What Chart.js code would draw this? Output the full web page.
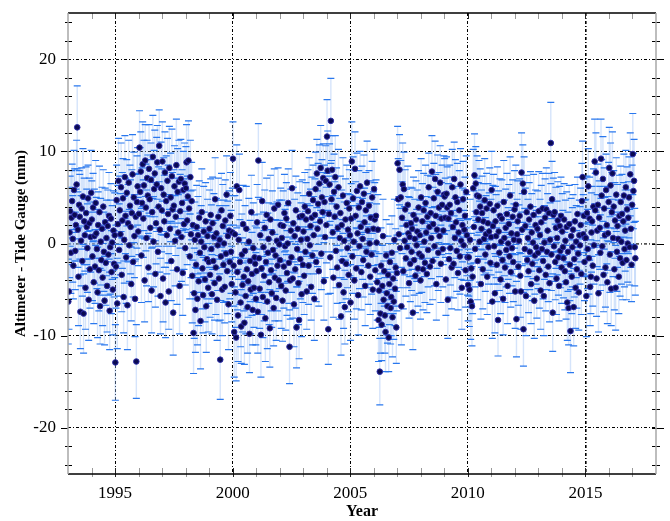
<!DOCTYPE html>
<html>
<head>
<meta charset="utf-8">
<script src="https://cdn.jsdelivr.net/npm/chart.js@4"></script>
<style>
  html, body { margin: 0; padding: 0; background: #fff; }
  #wrap { width: 670px; height: 521px; }
</style>
</head>
<body>
<div id="wrap"><canvas id="slaChart"></canvas></div>
<script>
// altimeter minus tide gauge (mm), one row per year, ~37 points a year
const blockStart = [1993, 1999, 2005, 2011];
const perYear = 37;

const sla1993 = [
  -6.3, -5.2, 1.2, 3.5, -1.0, 2.8, 4.6, 0.5, -2.4, 5.8, 3.1, -0.8, 2.0, 6.4, 12.6, 1.5, -3.6, 4.2, 2.9, -7.4, 0.3, 3.8, -1.9, 5.1, -7.6, 2.4, 0.9, -4.8, 3.3, 1.8, -0.5, 4.9, -6.1, 2.2, -2.8, 0.7, 5.5,
  2.6, -1.4, 3.9, -4.2, 0.8, -2.5, 4.4, 1.1, -0.6, -5.3, 2.0, -2.9, 3.4, -6.8, 0.2, -1.8, 1.6, -3.7, 4.0, -0.9, -6.2, 2.3, -2.1, 0.6, -4.6, 1.9, -1.2, 3.0, -7.3, -0.4, 2.7, -3.1, 0.1, -5.0, 1.4, -2.2, 0.9,
  -12.9, -2.5, 4.7, -6.5, 2.1, 6.8, -0.7, 3.6, 1.0, 6.1, -3.4, 2.5, 4.9, -5.8, 0.4, 7.2, 3.0, -1.5, 5.5, -6.7, 2.2, 6.6, -0.2, 4.1, 1.8, -4.4, 3.3, 7.5, -2.0, 5.0, 0.8, -6.0, 2.9, -12.8, 4.5, 6.2, 1.3,
  3.2, 10.4, 5.6, 7.8, -1.3, 4.4, 8.6, 2.7, 6.3, -4.0, 9.0, 3.9, 0.6, 7.1, 5.2, -2.6, 8.1, 4.8, 1.7, 6.9, -5.1, 3.4, 9.4, 0.2, 5.9, 7.6, -3.3, 2.2, 6.4, 8.8, -0.9, 4.0, 10.6, 1.5, -5.7, 6.0, 3.6,
  8.9, -3.8, 5.3, 2.4, 7.7, -6.4, 4.6, 0.9, 6.8, 3.2, -5.2, 8.2, 1.6, 5.0, -1.9, 7.3, 3.7, -7.5, 4.1, 6.2, 0.3, 2.9, 8.5, -2.8, 5.6, 1.2, 6.7, -4.6, 3.5, 7.0, 0.7, 4.4, -3.2, 5.8, 2.1, 6.5, -0.5,
  6.0, 8.8, 2.5, 5.1, 9.0, 3.8, -1.4, 7.2, 1.0, 4.6, -3.5, 2.0, -9.7, -5.4, 0.4, -7.2, -2.3, 1.8, -6.0, 0.9, -4.1, 2.8, -1.0, -8.4, 0.2, 3.4, -2.7, -5.6, 1.3, -0.4, -3.9, 2.4, -6.8, -1.7, 0.8, -4.8, -2.0
];
const sla1999 = [
  1.6, -3.4, 3.1, -0.6, -5.5, 2.2, -1.9, 0.7, -4.3, 4.8, -2.6, 1.1, -6.1, -0.2, 2.9, -3.8, 0.4, -12.6, -1.4, 3.6, -5.0, 1.9, -2.3, 0.0, -4.7, 2.5, -1.1, 5.3, -3.0, 0.8, -6.6, 1.4, -2.0, 3.0, -0.9, -4.4, 1.2,
  9.2, -2.4, -9.6, 1.0, -5.3, -10.2, 6.2, -3.1, -7.8, 0.4, 5.8, -2.0, -6.4, -9.0, -1.2, -4.5, 2.1, -3.6, -8.6, -0.8, -5.7, 1.6, -2.8, -6.9, -4.1, 0.2, -9.8, -1.9, -5.0, 3.4, -3.3, -7.2, -0.5, -4.8, -1.5, -2.2, -6.0,
  -3.0, 2.3, -7.4, 9.0, -1.6, -4.9, 0.9, -9.9, -2.7, 4.6, -5.8, -0.4, -3.5, 1.7, -8.1, -2.0, 3.1, -6.3, -1.0, 0.5, -4.2, -9.2, 2.6, -2.9, -5.4, 1.2, -0.7, -7.0, 3.8, -3.7, -1.3, -5.9, 0.3, -2.4, 4.2, -4.0, -0.1,
  -1.8, 2.0, -4.6, 0.6, -6.2, 1.9, -2.5, 3.3, -0.3, -5.1, 2.7, -3.2, 0.0, 4.4, -2.1, -11.2, -4.0, 1.4, -1.5, 6.0, -3.8, 2.2, -6.6, 0.8, -2.8, 3.6, -9.1, -0.6, 1.6, -4.3, -8.3, 2.9, -1.7, 0.4, -5.5, 3.0, -2.3,
  1.3, -3.5, 4.0, -0.9, 2.6, -5.2, 0.5, 3.5, -2.4, 5.4, -0.2, 1.9, -4.7, 2.8, -1.3, 4.7, 0.9, -6.0, 3.1, 5.9, -2.0, 7.6, 1.6, 4.3, -3.0, 6.5, 2.4, 8.2, -1.1, 5.0, 3.4, 7.1, -4.1, 4.5, 0.7, 6.8, 2.0,
  11.6, 7.9, -9.3, 3.2, 6.4, -1.5, 13.3, 4.8, 8.0, 1.2, -3.7, 5.6, 2.9, 7.2, -0.8, 4.0, -2.6, 1.7, 6.1, -4.5, 0.6, 3.3, -7.9, 2.0, -1.9, 5.2, -5.3, 0.3, -6.9, 2.6, -2.2, 4.4, -0.5, 1.5, -3.4, 3.8, 0.9
];
const sla2005 = [
  -6.4, 2.7, 8.9, -1.4, 4.9, 0.2, -4.0, 8.1, 3.0, -2.7, 5.7, 1.1, -5.6, 3.9, -0.3, 6.2, 1.8, -3.1, 4.5, 0.5, -1.8, 5.4, 2.3, -4.6, 3.6, -0.9, 6.6, 1.4, -2.4, 4.1, 0.0, -3.6, 2.8, -1.2, 5.0, -5.0, 1.6,
  5.9, 2.6, -2.9, 3.0, 0.1, -4.2, 1.5, -8.3, -5.1, -13.9, -7.6, -2.4, -8.8, -4.6, 0.8, -6.1, -3.0, -7.8, -9.6, -1.3, -5.4, -6.8, -3.4, -10.2, -4.4, -2.0, -7.0, -5.8, -1.0, -8.0, -3.8, -6.3, 0.4, -4.9, -2.6, -9.1, -3.2,
  8.7, 4.8, 1.0, 8.0, -0.5, 5.0, -6.8, 2.8, 6.4, -3.0, 5.9, 0.3, 3.7, -1.6, 2.0, -0.4, 4.2, 1.1, -4.3, 0.7, -2.2, 2.2, -0.9, 1.6, -7.5, 3.1, -1.8, 0.5, -3.5, 2.6, -0.2, 1.3, -2.7, 3.9, -1.1, 0.9, -4.0,
  5.0, -1.4, 2.4, -2.8, 3.6, 0.2, -2.1, 4.4, 1.2, -3.3, 2.9, -0.7, 6.1, 1.8, -2.5, 3.3, 0.6, 7.8, -1.9, 2.1, 4.9, -0.3, 7.0, 3.0, -4.4, 1.5, 5.6, -1.0, 3.9, 0.8, 6.6, -2.2, 2.7, 4.2, -0.6, 1.4, 5.3,
  5.1, 2.8, -3.9, 5.4, 3.9, -6.1, 2.7, -1.7, 4.2, -0.5, 3.3, -2.6, 6.1, 1.8, -2.2, 7.0, 0.6, 5.0, 2.3, -0.8, 4.5, -3.2, 1.2, 3.6, -1.4, 6.4, 0.3, -4.8, 2.0, 4.8, -0.2, 1.5, 3.0, -2.9, 5.6, 0.9, -1.5,
  -4.5, -1.5, -5.0, 0.4, -6.3, -2.7, -6.8, -3.6, 6.0, 1.8, 7.4, -0.6, 6.5, 3.4, 5.2, -1.9, 2.6, 5.1, 0.2, 4.0, -4.4, 1.6, 3.3, -2.8, 2.4, 0.5, 4.7, -1.2, 1.0, 3.8, -3.6, 2.2, -0.4, 1.3, 4.3, -2.1, 0.7
];
const sla2011 = [
  5.8, -6.3, 1.9, 3.6, -0.3, -5.4, 2.4, 0.8, -2.3, 4.1, -8.3, 1.3, -1.0, 3.0, -3.9, 0.2, 2.7, -1.8, -6.0, 4.5, 0.6, -2.6, 1.7, -0.7, 3.2, -4.6, 0.0, 2.1, -1.4, 5.2, -3.1, 1.1, -0.5, 2.9, -2.0, 0.4, 3.7,
  -5.2, 4.2, -8.2, 1.0, 2.4, -2.5, 0.3, 3.0, -3.5, -5.2, 7.7, 1.5, 6.5, -9.3, 5.6, -0.6, 1.9, -5.7, 3.4, -1.8, 0.6, -3.0, 2.6, -0.9, 4.0, -4.4, 1.2, -2.2, 0.1, 3.1, -6.2, -1.3, 2.0, -0.4, -3.8, 1.6, -1.0,
  3.5, -2.9, 0.9, -5.1, 2.3, -0.6, 3.8, -1.9, -5.7, 0.1, 2.8, -3.4, 3.7, -0.9, 1.4, -2.5, 3.3, -4.3, 0.4, 10.9, -1.2, 4.8, -7.5, 3.1, -0.3, 3.4, -2.0, 1.7, -3.8, 0.6, 2.5, -1.5, -4.6, 1.9, -0.8, 3.0, -2.6,
  1.3, -0.4, -1.6, 2.6, -3.0, 0.3, -4.2, 1.8, -6.4, -0.9, -7.0, 2.1, -2.3, -9.5, 0.8, -3.6, -0.4, 1.5, -6.9, -1.7, 2.4, -4.8, 0.2, -2.8, 3.2, -1.1, -5.3, 0.9, -0.2, 2.0, -3.3, 4.6, 7.2, 1.0, 3.0, -2.0, 0.6,
  0.6, -5.7, 3.3, -0.6, 6.2, -1.6, 2.7, -4.7, -3.6, 1.2, 2.4, -2.4, 4.0, -0.2, 8.9, 3.6, 7.7, -3.8, 1.4, 4.2, -5.4, 2.8, 1.7, -1.0, 9.2, 5.2, -0.3, 7.0, -3.4, 3.8, 0.9, -2.6, 5.8, 2.0, -4.2, 1.1, 4.5,
  8.2, -1.2, 6.3, -4.9, 3.4, 7.6, 0.6, 4.0, -2.8, 2.5, -4.8, 5.3, -0.9, 1.9, 0.5, -3.6, 3.0, -1.6, 4.5, 0.2, 3.2, -2.1, 2.4, 5.2, -0.6, 1.4, 6.1, -1.8, 3.7, 0.0, 2.8, 5.0, -0.4, 7.5, 1.6, -2.3, 4.2,
  9.7, 5.7, 6.8, -0.4, -1.6
];

// one-sigma error bar (mm) for each point above
const err1993 = [
  4.6, 4.1, 4.9, 3.8, 4.4, 5.1, 4.0, 4.7, 3.6, 4.3, 5.0, 4.2, 3.9, 4.8, 4.5, 4.1, 5.3, 3.7, 4.6, 4.0, 4.9, 4.4, 3.8, 5.2, 4.3, 4.7, 3.9, 4.5, 5.0, 4.1, 4.8, 3.6, 4.4, 4.9, 4.2, 3.8, 4.6,
  4.2, 4.8, 3.7, 4.5, 5.1, 4.0, 4.6, 3.9, 4.3, 4.9, 3.6, 4.4, 5.0, 4.1, 4.7, 3.8, 4.5, 5.2, 4.0, 4.3, 4.8, 3.7, 4.6, 4.1, 5.0, 3.9, 4.4, 4.7, 4.2, 5.1, 3.8, 4.5, 4.0, 4.9, 4.3, 3.6, 4.6,
  4.1, 4.5, 3.8, 4.9, 4.2, 4.6, 5.0, 3.7, 4.4, 4.8, 4.0, 5.2, 4.3, 3.9, 4.7, 4.5, 4.1, 5.0, 3.6, 4.8, 4.2, 4.6, 3.9, 4.4, 5.1, 4.0, 4.7, 4.3, 3.8, 4.9, 4.5, 4.1, 4.6, 4.0, 5.0, 4.2, 3.7,
  4.4, 4.0, 4.8, 4.3, 5.1, 3.8, 4.6, 4.2, 4.9, 4.5, 3.9, 4.7, 5.2, 4.1, 4.4, 3.7, 4.8, 4.3, 5.0, 4.0, 4.6, 3.8, 4.5, 4.9, 4.2, 4.7, 3.6, 4.4, 5.1, 4.0, 4.8, 4.3, 3.9, 4.6, 4.1, 5.0, 4.5,
  4.3, 4.7, 4.0, 5.0, 4.4, 3.8, 4.9, 4.2, 4.6, 5.3, 4.1, 4.5, 3.7, 4.8, 4.3, 5.1, 4.0, 4.6, 3.9, 4.4, 4.9, 4.2, 5.0, 3.8, 4.7, 4.1, 4.5, 5.2, 4.0, 4.3, 4.8, 3.6, 4.6, 4.2, 4.9, 4.4, 4.0,
  4.5, 4.1, 4.8, 3.9, 4.3, 5.0, 4.6, 4.0, 4.7, 4.2, 5.1, 3.8, 4.4, 4.9, 4.1, 4.6, 3.7, 4.5, 5.0, 4.2, 4.8, 4.0, 4.3, 5.2, 3.9, 4.7, 4.4, 4.1, 4.9, 3.8, 4.6, 4.2, 5.0, 4.3, 4.0, 4.8, 4.5
];
const err1999 = [
  4.2, 4.6, 3.9, 4.8, 4.3, 5.0, 4.1, 4.7, 4.0, 4.5, 5.1, 3.8, 4.4, 4.9, 4.2, 4.6, 3.7, 4.3, 4.8, 4.0, 5.0, 4.5, 4.1, 4.7, 3.9, 4.4, 5.2, 4.2, 4.6, 3.8, 4.9, 4.3, 4.0, 4.7, 4.5, 4.1, 4.8,
  4.0, 4.4, 4.9, 4.2, 3.8, 4.7, 4.5, 4.1, 5.0, 4.3, 3.9, 4.6, 4.8, 4.0, 4.4, 5.1, 4.2, 3.7, 4.5, 4.9, 4.1, 4.6, 4.3, 5.0, 3.9, 4.7, 4.2, 4.4, 4.8, 4.0, 4.5, 3.8, 4.9, 4.3, 4.6, 4.1, 5.0,
  4.7, 4.1, 4.5, 4.0, 4.8, 4.3, 3.9, 4.6, 5.0, 4.2, 4.4, 3.8, 4.9, 4.1, 4.7, 4.5, 4.0, 5.1, 4.3, 3.9, 4.6, 4.2, 4.8, 4.4, 3.7, 4.5, 5.0, 4.1, 4.3, 4.7, 3.9, 4.6, 4.2, 4.9, 4.0, 4.4, 4.8,
  4.3, 4.0, 4.6, 4.1, 4.4, 3.8, 4.5, 4.2, 4.0, 4.3, 3.9, 4.6, 4.1, 3.7, 4.4, 4.0, 4.2, 4.5, 3.8, 4.1, 4.3, 3.9, 4.6, 4.0, 4.2, 3.7, 4.4, 4.1, 3.9, 4.5, 4.2, 3.8, 4.3, 4.0, 4.6, 3.9, 4.1,
  3.9, 4.2, 3.7, 4.4, 4.0, 4.1, 3.8, 4.5, 4.2, 3.9, 4.3, 4.0, 3.6, 4.4, 4.1, 3.8, 4.2, 4.5, 3.9, 4.0, 4.3, 3.7, 4.1, 4.4, 3.8, 4.2, 4.0, 4.6, 3.9, 4.1, 4.3, 3.7, 4.2, 4.0, 4.4, 3.8, 4.1,
  4.0, 4.3, 3.8, 4.1, 4.4, 3.9, 4.6, 4.2, 3.7, 4.0, 4.3, 4.1, 3.8, 4.5, 4.0, 4.2, 3.9, 4.4, 4.1, 3.7, 4.3, 4.0, 4.2, 3.8, 4.5, 4.1, 3.9, 4.2, 4.0, 4.4, 3.8, 4.1, 4.3, 3.9, 4.0, 4.2, 4.4
];
const err2005 = [
  4.1, 3.8, 4.3, 4.0, 4.5, 3.9, 4.2, 4.0, 3.7, 4.4, 4.1, 3.9, 4.3, 4.0, 4.6, 3.8, 4.2, 4.1, 3.9, 4.4, 4.0, 4.2, 3.7, 4.3, 4.1, 3.9, 4.5, 4.0, 4.2, 3.8, 4.4, 4.1, 4.0, 4.3, 3.9, 4.2, 4.0,
  4.3, 4.0, 4.4, 3.9, 4.2, 4.1, 3.8, 4.5, 4.0, 3.6, 4.3, 4.1, 3.9, 4.4, 4.0, 4.2, 3.8, 4.1, 4.3, 3.9, 4.5, 4.0, 4.2, 3.7, 4.4, 4.1, 3.9, 4.2, 4.0, 4.3, 3.8, 4.1, 4.4, 4.0, 4.2, 3.9, 4.1,
  4.0, 4.4, 4.1, 3.8, 4.3, 4.0, 4.2, 3.9, 4.5, 4.1, 4.0, 3.7, 4.3, 4.1, 3.9, 4.4, 4.2, 4.0, 3.8, 4.3, 4.1, 3.9, 4.2, 4.4, 4.0, 4.1, 3.8, 4.3, 4.0, 4.2, 3.9, 4.5, 4.1, 4.0, 4.3, 3.8, 4.2,
  4.2, 3.9, 4.1, 4.4, 4.0, 3.8, 4.3, 4.1, 3.9, 4.2, 4.5, 4.0, 3.7, 4.3, 4.1, 4.0, 4.4, 3.9, 4.2, 4.0, 3.8, 4.3, 4.1, 4.5, 3.9, 4.2, 4.0, 4.1, 3.8, 4.4, 4.0, 4.2, 3.9, 4.3, 4.1, 3.7, 4.2,
  4.1, 4.3, 3.9, 4.0, 4.4, 4.2, 3.8, 4.1, 4.3, 4.0, 3.9, 4.5, 4.1, 4.2, 3.7, 4.0, 4.3, 4.1, 3.9, 4.4, 4.2, 4.0, 3.8, 4.3, 4.1, 3.9, 4.2, 4.5, 4.0, 4.1, 3.8, 4.3, 4.2, 4.0, 3.9, 4.4, 4.1,
  3.9, 4.2, 4.0, 4.4, 4.1, 3.8, 4.3, 4.0, 4.2, 3.9, 4.5, 4.1, 4.0, 3.7, 4.3, 4.2, 4.0, 3.9, 4.4, 4.1, 3.8, 4.2, 4.0, 4.3, 4.1, 3.9, 4.5, 4.0, 4.2, 3.8, 4.1, 4.3, 4.0, 4.2, 3.9, 4.4, 4.1
];
const err2011 = [
  4.2, 4.0, 4.4, 3.9, 4.1, 4.3, 3.8, 4.5, 4.0, 4.2, 3.9, 4.4, 4.1, 4.0, 3.7, 4.3, 4.2, 4.0, 3.9, 4.5, 4.1, 3.8, 4.2, 4.0, 4.4, 4.1, 3.9, 4.3, 4.0, 4.2, 3.8, 4.4, 4.1, 4.0, 4.3, 3.9, 4.2,
  4.0, 4.3, 4.1, 3.8, 4.4, 4.2, 3.9, 4.0, 4.5, 4.1, 4.3, 3.9, 4.2, 4.0, 3.8, 4.4, 4.1, 4.3, 4.0, 3.9, 4.2, 4.5, 4.0, 4.1, 3.8, 4.3, 4.2, 4.0, 3.9, 4.4, 4.1, 4.2, 3.8, 4.0, 4.3, 4.1, 3.9,
  4.3, 4.1, 3.9, 4.2, 4.0, 4.4, 3.8, 4.1, 4.3, 4.0, 4.2, 3.9, 4.5, 4.1, 4.0, 3.8, 4.3, 4.2, 4.0, 4.4, 3.9, 4.1, 4.2, 4.0, 3.8, 4.3, 4.1, 4.4, 3.9, 4.0, 4.2, 4.1, 3.8, 4.3, 4.0, 4.2, 3.9,
  4.1, 4.0, 4.3, 3.9, 4.2, 4.4, 4.0, 3.8, 4.1, 4.3, 4.0, 4.2, 3.9, 4.5, 4.1, 4.0, 4.3, 3.8, 4.2, 4.1, 4.0, 4.4, 3.9, 4.2, 4.0, 4.3, 4.1, 3.8, 4.2, 4.0, 4.4, 4.1, 3.9, 4.3, 4.0, 4.2, 4.1,
  4.2, 4.4, 4.0, 4.3, 4.1, 3.9, 4.5, 4.2, 4.0, 4.3, 3.8, 4.4, 4.1, 4.2, 4.6, 4.0, 4.3, 4.1, 3.9, 4.4, 4.2, 4.0, 4.5, 4.1, 4.3, 3.9, 4.2, 4.6, 4.0, 4.4, 4.1, 4.3, 3.9, 4.2, 4.5, 4.0, 4.3,
  4.4, 4.1, 4.6, 4.0, 4.3, 4.5, 4.2, 3.9, 4.4, 4.1, 4.6, 4.0, 4.3, 4.5, 4.2, 4.0, 4.4, 4.1, 3.9, 4.6, 4.3, 4.0, 4.2, 4.5, 4.1, 4.4, 4.0, 4.3, 4.6, 4.2, 3.9, 4.4, 4.1, 4.5, 4.2, 4.0, 4.3,
  4.4, 4.1, 4.5, 4.2, 4.0
];

const xTicks = [1995, 2000, 2005, 2010, 2015];
const yTicks = [-20, -10, 0, 10, 20];

const blocks = [[sla1993, err1993], [sla1999, err1999], [sla2005, err2005], [sla2011, err2011]];
const points = [];
const errs = [];
blocks.forEach(([vals, e], b) => {
  vals.forEach((v, i) => {
    points.push({ x: blockStart[b] + (i + 0.5) / perYear, y: v });
    errs.push(e[i]);
  });
});

const serif = '"Liberation Serif", "DejaVu Serif", "Times New Roman", serif';

// error bars under the dots
const errorBars = {
  id: 'errorBars',
  beforeDatasetsDraw(chart) {
    const { ctx, scales: { y } } = chart;
    const meta = chart.getDatasetMeta(0);
    ctx.save();
    ctx.beginPath();
    ctx.rect(chart.chartArea.left, chart.chartArea.top, chart.chartArea.width, chart.chartArea.height);
    ctx.clip();
    meta.data.forEach((pt, i) => {
      const v = points[i].y;
      const top = y.getPixelForValue(v + errs[i]);
      const bot = y.getPixelForValue(v - errs[i]);
      ctx.strokeStyle = 'rgba(150,188,245,0.4)';
      ctx.lineWidth = 1.4;
      ctx.beginPath();
      ctx.moveTo(pt.x, top);
      ctx.lineTo(pt.x, bot);
      ctx.stroke();
    });
    meta.data.forEach((pt, i) => {
      const v = points[i].y;
      const top = y.getPixelForValue(v + errs[i]);
      const bot = y.getPixelForValue(v - errs[i]);
      ctx.strokeStyle = '#2a78ee';
      ctx.lineWidth = 1.2;
      ctx.beginPath();
      ctx.moveTo(pt.x - 3.5, top);
      ctx.lineTo(pt.x + 3.5, top);
      ctx.moveTo(pt.x - 3.5, bot);
      ctx.lineTo(pt.x + 3.5, bot);
      ctx.stroke();
    });
    ctx.restore();
  }
};

// frame and minor ticks
const frame = {
  id: 'frame',
  afterDraw(chart) {
    const { ctx, chartArea: a, scales: { x, y } } = chart;
    ctx.save();
    ctx.lineWidth = 1;
    // year ticks, top and bottom
    for (let yr = 1994; yr < 2018; yr++) {
      const px = Math.round(x.getPixelForValue(yr)) + 0.5;
      const major = xTicks.includes(yr);
      ctx.strokeStyle = major ? '#222' : '#999';
      ctx.beginPath();
      ctx.moveTo(px, a.bottom + 3);
      ctx.lineTo(px, a.bottom - 6);
      ctx.moveTo(px, a.top);
      ctx.lineTo(px, a.top + 6);
      ctx.stroke();
    }
    // y ticks every 2 mm, left and right
    for (let v = -24; v <= 24; v += 2) {
      const py = Math.round(y.getPixelForValue(v)) + 0.5;
      const major = yTicks.includes(v);
      ctx.strokeStyle = '#000';
      ctx.beginPath();
      if (major) {
        ctx.moveTo(a.left - 7, py);
        ctx.lineTo(a.left, py);
        ctx.moveTo(a.right - 4, py);
        ctx.lineTo(a.right + 8, py);
      } else {
        ctx.moveTo(a.left - 3, py);
        ctx.lineTo(a.left + 4, py);
        ctx.moveTo(a.right - 4, py);
        ctx.lineTo(a.right + 4, py);
      }
      ctx.stroke();
    }
    ctx.lineWidth = 1.5;
    ctx.strokeStyle = '#000';
    ctx.beginPath();
    ctx.moveTo(a.left, a.top);
    ctx.lineTo(a.right, a.top);
    ctx.moveTo(a.left, a.bottom);
    ctx.lineTo(a.right, a.bottom);
    ctx.stroke();
    ctx.strokeStyle = '#a8a8a8';
    ctx.beginPath();
    ctx.moveTo(a.left, a.top);
    ctx.lineTo(a.left, a.bottom);
    ctx.moveTo(a.right, a.top);
    ctx.lineTo(a.right, a.bottom);
    ctx.stroke();
    ctx.restore();
  }
};

new Chart(document.getElementById('slaChart'), {
  type: 'scatter',
  data: {
    datasets: [{
      label: 'Altimeter - Tide Gauge',
      data: points,
      backgroundColor: '#0a0a52',
      borderColor: '#2c2ca8',
      borderWidth: 1,
      pointRadius: 2.8
    }]
  },
  options: {
    responsive: true,
    maintainAspectRatio: false,
    animation: false,
    layout: { autoPadding: false, padding: { top: 13, right: 14, left: 0, bottom: 0 } },
    plugins: { legend: { display: false }, tooltip: { enabled: false } },
    scales: {
      x: {
        type: 'linear',
        min: 1993,
        max: 2018,
        afterBuildTicks: (s) => { s.ticks = xTicks.map(v => ({ value: v })); },
        afterFit: (s) => { s.height = 47; s.paddingLeft = 0; s.paddingRight = 0; },
        grid: {
          color: '#000',
          lineWidth: (c) => (c.tick && c.tick.value === 2015 ? 1.6 : 1),
          drawTicks: false
        },
        border: { display: false, dash: [3, 2, 1, 2] },
        ticks: {
          padding: 9,
          color: '#000',
          font: { family: serif, size: 17 },
          callback: (v) => String(v)
        },
        title: {
          display: true,
          text: 'Year',
          color: '#000',
          font: { family: serif, size: 16, weight: 'bold', lineHeight: 1.2 },
          padding: { top: 0, bottom: 0 }
        }
      },
      y: {
        min: -25,
        max: 25,
        afterBuildTicks: (s) => { s.ticks = yTicks.map(v => ({ value: v })); },
        afterFit: (s) => { s.width = 68; s.paddingTop = 0; s.paddingBottom = 0; },
        grid: {
          color: (c) => (c.tick && c.tick.value === 0 ? '#555' : '#000'),
          lineWidth: (c) => (c.tick && c.tick.value === 0 ? 1.8 : 1),
          drawTicks: false
        },
        border: { display: false, dash: [3, 2, 1, 2] },
        ticks: {
          padding: 12,
          color: '#000',
          font: { family: serif, size: 17 }
        },
        title: {
          display: true,
          text: 'Altimeter - Tide Gauge (mm)',
          color: '#000',
          font: { family: serif, size: 15, weight: 'bold', lineHeight: 1.2 },
          padding: { top: 12, bottom: 0 }
        }
      }
    }
  },
  plugins: [errorBars, frame]
});
</script>
